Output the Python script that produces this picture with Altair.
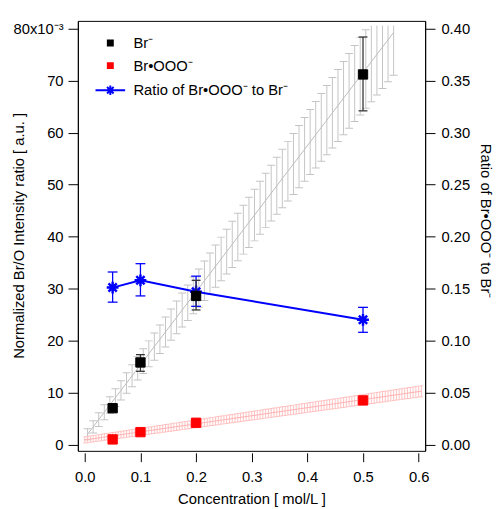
import altair as alt
import numpy as np
import pandas as pd

# ---------------- data ----------------
conc = [0.05, 0.1, 0.2, 0.5]
br = [0.0070, 0.0158, 0.0286, 0.0712]
br_lo = [0.0064, 0.0141, 0.0259, 0.0642]
br_hi = [0.0076, 0.0173, 0.0316, 0.0784]
brooo = [0.0010, 0.0024, 0.0042, 0.0085]
ratio = [0.151, 0.158, 0.147, 0.120]
ratio_lo = [0.137, 0.143, 0.133, 0.108]
ratio_hi = [0.166, 0.174, 0.162, 0.132]

series_names = ["Br⁻", "Br•OOO⁻", "Ratio of Br•OOO⁻ to Br⁻"]
series_colors = ["#000000", "#ff0000", "#0000ff"]

x_ticks = [0.0, 0.1, 0.2, 0.3, 0.4, 0.5, 0.6]
left_ticks = [0.0, 0.01, 0.02, 0.03, 0.04, 0.05, 0.06, 0.07, 0.08]
right_ticks = [0.0, 0.05, 0.10, 0.15, 0.20, 0.25, 0.30, 0.35, 0.40]

# linear fits drawn with confidence error bars (parameters)
br_fit = dict(x0=0.005, x1=0.555, step=0.01, intercept=0.0013, slope=0.1405,
              hw0=0.0010, hw_slope=0.0130, clip=0.0806)
brooo_fit = dict(x0=0.0, x1=0.605, step=0.005, intercept=0.0009, slope=0.0155,
                 hw0=0.0006, hw_slope=0.00075, clip=1.0)

x_domain = [-0.0125, 0.6117]
left_domain = [-0.0012, 0.0815]
right_domain = [-0.006, 0.4075]

FONT = "Liberation Sans"
FS = 15


def band_frame(p):
    xs = np.round(np.arange(p["x0"], p["x1"] + p["step"] / 2, p["step"]), 4)
    c = p["intercept"] + p["slope"] * xs
    hw = p["hw0"] + p["hw_slope"] * xs
    hi = c + hw
    return pd.DataFrame({
        "x": xs, "c": c, "lo": c - hw,
        "hi": np.minimum(hi, p["clip"]),
        "hi_cap": np.where(hi < p["clip"], hi, np.nan),
    })


gray = band_frame(br_fit)
pink = band_frame(brooo_fit)

pts = pd.DataFrame({
    "x": conc * 2,
    "v": br + brooo,
    "series": [series_names[0]] * 4 + [series_names[1]] * 4,
})
br_err = pd.DataFrame({"x": conc, "lo": br_lo, "hi": br_hi})
rat = pd.DataFrame({"x": conc, "v": ratio, "lo": ratio_lo, "hi": ratio_hi})

# ---------------- encodings ----------------
X = alt.X("x:Q", scale=alt.Scale(domain=x_domain, nice=False, zero=False),
          axis=alt.Axis(values=x_ticks, format=".1f", title="Concentration [ mol/L ]",
                        tickSize=9, offset=2, domain=False, labelPadding=8,
                        titleY=52, titleBaseline="alphabetic"))

left_axis = alt.Axis(values=left_ticks, tickSize=10, labelPadding=5,
                     labelExpr="datum.value > 0.0799 ? '80x10⁻³' : format(round(datum.value*1000), 'd')",
                     title="Normalized Br/O Intensity ratio [ a.u. ]",
                     titleAngle=-90, titleX=-60, titleY=218, titleAlign="center",
                     titleBaseline="middle")
right_axis = alt.Axis(orient="right", values=right_ticks, format=".2f", tickSize=10,
                      labelPadding=6, title="Ratio of Br•OOO⁻ to Br⁻",
                      titleAngle=90, titleX=61, titleY=203, titleAlign="center",
                      titleBaseline="middle")

LS = alt.Scale(domain=left_domain, nice=False, zero=False)
RS = alt.Scale(domain=right_domain, nice=False, zero=False)

# background: fit bands (left axis)
g_rule = alt.Chart(gray).mark_rule(color="#c4c4c4", strokeWidth=1, clip=True).encode(
    x=X, y=alt.Y("lo:Q", scale=LS, axis=left_axis), y2="hi:Q")
g_cap_lo = alt.Chart(gray).mark_tick(orient="horizontal", color="#c4c4c4", size=8,
                                     thickness=1, opacity=1, clip=True).encode(
    x=X, y=alt.Y("lo:Q", scale=LS, axis=left_axis))
g_cap_hi = alt.Chart(gray).mark_tick(orient="horizontal", color="#c4c4c4", size=8,
                                     thickness=1, opacity=1, clip=True).encode(
    x=X, y=alt.Y("hi_cap:Q", scale=LS, axis=left_axis))
g_line = alt.Chart(gray).mark_line(color="#bcbcbc", strokeWidth=1, clip=True).encode(
    x=X, y=alt.Y("c:Q", scale=LS, axis=left_axis))

p_rule = alt.Chart(pink).mark_rule(color="#ffc0c0", strokeWidth=1, clip=True).encode(
    x=X, y=alt.Y("lo:Q", scale=LS, axis=left_axis), y2="hi:Q")
p_cap_lo = alt.Chart(pink).mark_tick(orient="horizontal", color="#ffc0c0", size=3,
                                     thickness=1, opacity=1, clip=True).encode(
    x=X, y=alt.Y("lo:Q", scale=LS, axis=left_axis))
p_cap_hi = alt.Chart(pink).mark_tick(orient="horizontal", color="#ffc0c0", size=3,
                                     thickness=1, opacity=1, clip=True).encode(
    x=X, y=alt.Y("hi_cap:Q", scale=LS, axis=left_axis))
p_line = alt.Chart(pink).mark_line(color="#ffb0b0", strokeWidth=1, clip=True).encode(
    x=X, y=alt.Y("c:Q", scale=LS, axis=left_axis))

bg = alt.layer(g_rule, g_cap_lo, g_cap_hi, g_line, p_rule, p_cap_lo, p_cap_hi, p_line)

# ratio (right axis)
STAR = "M-1,0H1M0,-1V1M-0.7,-0.7L0.7,0.7M-0.7,0.7L0.7,-0.7"
r_line = alt.Chart(rat).mark_line(color="#0000ff", strokeWidth=2).encode(
    x=X, y=alt.Y("v:Q", scale=RS, axis=right_axis))
r_rule = alt.Chart(rat).mark_rule(color="#0000ff", strokeWidth=1.3).encode(
    x=X, y=alt.Y("lo:Q", scale=RS, axis=right_axis), y2="hi:Q")
r_cap_lo = alt.Chart(rat).mark_tick(orient="horizontal", color="#0000ff", size=10,
                                    thickness=1.3, opacity=1).encode(
    x=X, y=alt.Y("lo:Q", scale=RS, axis=right_axis))
r_cap_hi = alt.Chart(rat).mark_tick(orient="horizontal", color="#0000ff", size=10,
                                    thickness=1.3, opacity=1).encode(
    x=X, y=alt.Y("hi:Q", scale=RS, axis=right_axis))
r_star = alt.Chart(rat).mark_point(shape=STAR, size=144, color="#0000ff", filled=False,
                                   strokeWidth=2.5, opacity=1).encode(
    x=X, y=alt.Y("v:Q", scale=RS, axis=right_axis))
right = alt.layer(r_line, r_rule, r_cap_lo, r_cap_hi, r_star)

# foreground: Br- error bars and square markers (left axis)
SQ = "M-0.72,-0.72H0.72V0.72H-0.72Z"
STARLINE = "M-4.3,0H4.3M0,-1.35V1.35M-0.95,-0.95L0.95,0.95M-0.95,0.95L0.95,-0.95"
leg = alt.Legend(title=None)
b_rule = alt.Chart(br_err).mark_rule(color="#333333", strokeWidth=1.3).encode(
    x=X, y=alt.Y("lo:Q", scale=LS, axis=None), y2="hi:Q")
b_cap_lo = alt.Chart(br_err).mark_tick(orient="horizontal", color="#333333", size=9,
                                       thickness=1.3, opacity=1).encode(
    x=X, y=alt.Y("lo:Q", scale=LS, axis=None))
b_cap_hi = alt.Chart(br_err).mark_tick(orient="horizontal", color="#333333", size=9,
                                       thickness=1.3, opacity=1).encode(
    x=X, y=alt.Y("hi:Q", scale=LS, axis=None))
squares = alt.Chart(pts).mark_point(filled=True, size=174, strokeWidth=1, opacity=1).encode(
    x=X, y=alt.Y("v:Q", scale=LS, axis=None),
    fill=alt.Fill("series:N", scale=alt.Scale(domain=series_names, range=series_colors), legend=leg),
    stroke=alt.Stroke("series:N", scale=alt.Scale(domain=series_names, range=series_colors), legend=leg),
    shape=alt.Shape("series:N", scale=alt.Scale(domain=series_names, range=[SQ, SQ, STARLINE]), legend=leg),
)
fg = alt.layer(b_rule, b_cap_lo, b_cap_hi, squares)

chart = alt.layer(bg, right, fg).resolve_scale(y="independent").properties(
    width=353, height=437, autosize="none",
    padding={"left": 71, "top": 9, "right": 72, "bottom": 55},
).configure_view(stroke="#000000", strokeWidth=1).configure_axis(
    labelFont=FONT, labelFontSize=FS, labelColor="#000000", titleFont=FONT,
    titleFontSize=FS, titleFontWeight="normal", titleColor="#000000",
    tickColor="#000000", domainColor="#000000", grid=False,
).configure_legend(
    orient="none", legendX=25.5, legendY=15, padding=0, rowPadding=7,
    labelOffset=16, symbolSize=49, symbolStrokeWidth=2, labelFont=FONT,
    labelFontSize=FS, labelColor="#000000",
)

chart.save("out.html", embed_options={"renderer": "svg", "actions": False})
